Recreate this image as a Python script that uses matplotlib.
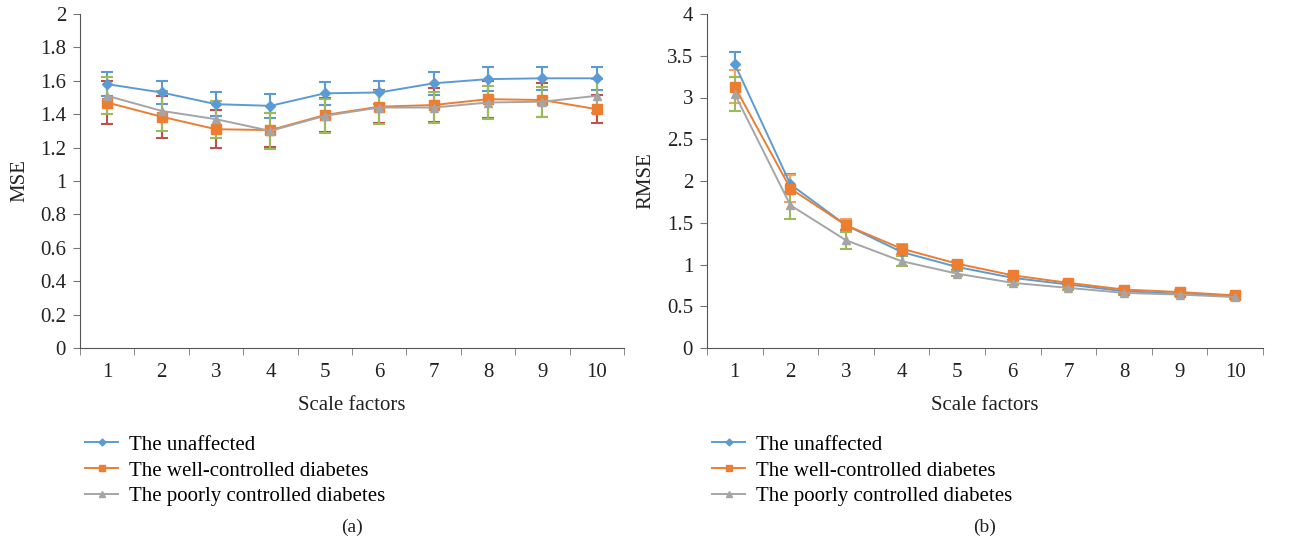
import matplotlib
matplotlib.use("Agg")
import matplotlib.pyplot as plt
from matplotlib.ticker import MultipleLocator

plt.rcParams['font.family'] = ['Liberation Serif', 'DejaVu Serif']

scales = [1, 2, 3, 4, 5, 6, 7, 8, 9, 10]
names = ["The unaffected", "The well-controlled diabetes", "The poorly controlled diabetes"]

# (a) MSE
mse_unaff = [1.58, 1.53, 1.46, 1.45, 1.525, 1.53, 1.585, 1.61, 1.615, 1.615]
mse_well = [1.47, 1.385, 1.31, 1.305, 1.395, 1.445, 1.455, 1.49, 1.485, 1.43]
mse_poor = [1.51, 1.42, 1.37, 1.30, 1.39, 1.44, 1.44, 1.47, 1.475, 1.51]
mse_unaff_err = [0.07, 0.07, 0.07, 0.07, 0.07, 0.07, 0.07, 0.07, 0.07, 0.07]
mse_well_err = [0.13, 0.125, 0.115, 0.10, 0.10, 0.10, 0.10, 0.11, 0.10, 0.085]
mse_poor_err = [0.11, 0.12, 0.11, 0.11, 0.10, 0.10, 0.09, 0.10, 0.09, 0.10]

# (b) RMSE
rmse_unaff = [3.40, 1.96, 1.47, 1.15, 0.97, 0.84, 0.76, 0.68, 0.65, 0.62]
rmse_well = [3.13, 1.91, 1.47, 1.19, 1.01, 0.87, 0.78, 0.70, 0.67, 0.63]
rmse_poor = [3.04, 1.71, 1.29, 1.04, 0.89, 0.78, 0.72, 0.66, 0.64, 0.61]
rmse_unaff_err = [0.15, 0.12, 0.06, 0.04, 0.03, 0.02, 0.02, 0.02, 0.02, 0.02]
rmse_well_err = [0.20, 0.16, 0.08, 0.06, 0.03, 0.02, 0.02, 0.02, 0.02, 0.02]
rmse_poor_err = [0.20, 0.16, 0.10, 0.06, 0.03, 0.02, 0.02, 0.02, 0.02, 0.02]

line_cols = ['#5B9BD5', '#ED7D31', '#A5A5A5']
markers = ['D', 's', '^']
msizes = [5, 7, 6]

fig = plt.figure(figsize=(13.02, 5.52), dpi=100)
ax1 = fig.add_axes([80/1302, 1-348/552, 544/1302, 334/552])
ax2 = fig.add_axes([707/1302, 1-348/552, 556/1302, 334/552])


def draw(ax, series, errs, err_cols, ymax, ystep, ylabel, caption):
    for vals, err, lc, ec, mk, ms, nm in zip(series, errs, line_cols, err_cols, markers, msizes, names):
        ax.errorbar(scales, vals, yerr=err, fmt='none', ecolor=ec, elinewidth=1.5,
                    capsize=4, capthick=1.5, zorder=2)
        ax.plot(scales, vals, color=lc, marker=mk, markersize=ms, linewidth=1.4,
                label=nm, zorder=3)
    ax.set_xlim(0.5, 10.5)
    ax.set_ylim(0, ymax)
    ax.yaxis.set_major_locator(MultipleLocator(ystep))
    ax.set_xticks(scales)
    ax.set_xticks([x + 0.5 for x in range(0, 11)], minor=True)
    ax.tick_params(axis='x', which='major', length=0, labelsize=15, pad=11, colors='#222222')
    ax.tick_params(axis='x', which='minor', length=5, color='#777777')
    ax.tick_params(axis='y', length=5, labelsize=15, pad=5, color='#777777', labelcolor='#222222')
    ax.yaxis.set_major_formatter(plt.FuncFormatter(lambda v, p: ('%.1f' % v).rstrip('0').rstrip('.')))
    for s in ['top', 'right']:
        ax.spines[s].set_visible(False)
    for s in ['left', 'bottom']:
        ax.spines[s].set_color('#555555')
    ax.set_ylabel(ylabel, fontsize=15, color='#222222', labelpad=8)
    ax.set_xlabel('Scale factors', fontsize=15, color='#222222', labelpad=10)
    ax.legend(loc='upper left', bbox_to_anchor=(-0.006, -0.236), frameon=False, fontsize=15,
              handlelength=1.6, labelspacing=0.3, borderaxespad=0, handletextpad=0.5,
              markerscale=0.7)
    ax.text(0.5, -0.538, caption, transform=ax.transAxes, ha='center', va='center',
            fontsize=14, color='#222222')


draw(ax1, [mse_unaff, mse_well, mse_poor], [mse_unaff_err, mse_well_err, mse_poor_err],
     ['#5B9BD5', '#C0504D', '#9BBB59'], 2, 0.2, 'MSE', '(a)')
draw(ax2, [rmse_unaff, rmse_well, rmse_poor], [rmse_unaff_err, rmse_well_err, rmse_poor_err],
     ['#5B9BD5', '#F4A460', '#9BBB59'], 4, 0.5, 'RMSE', '(b)')

fig.savefig('out.png', dpi=100)
